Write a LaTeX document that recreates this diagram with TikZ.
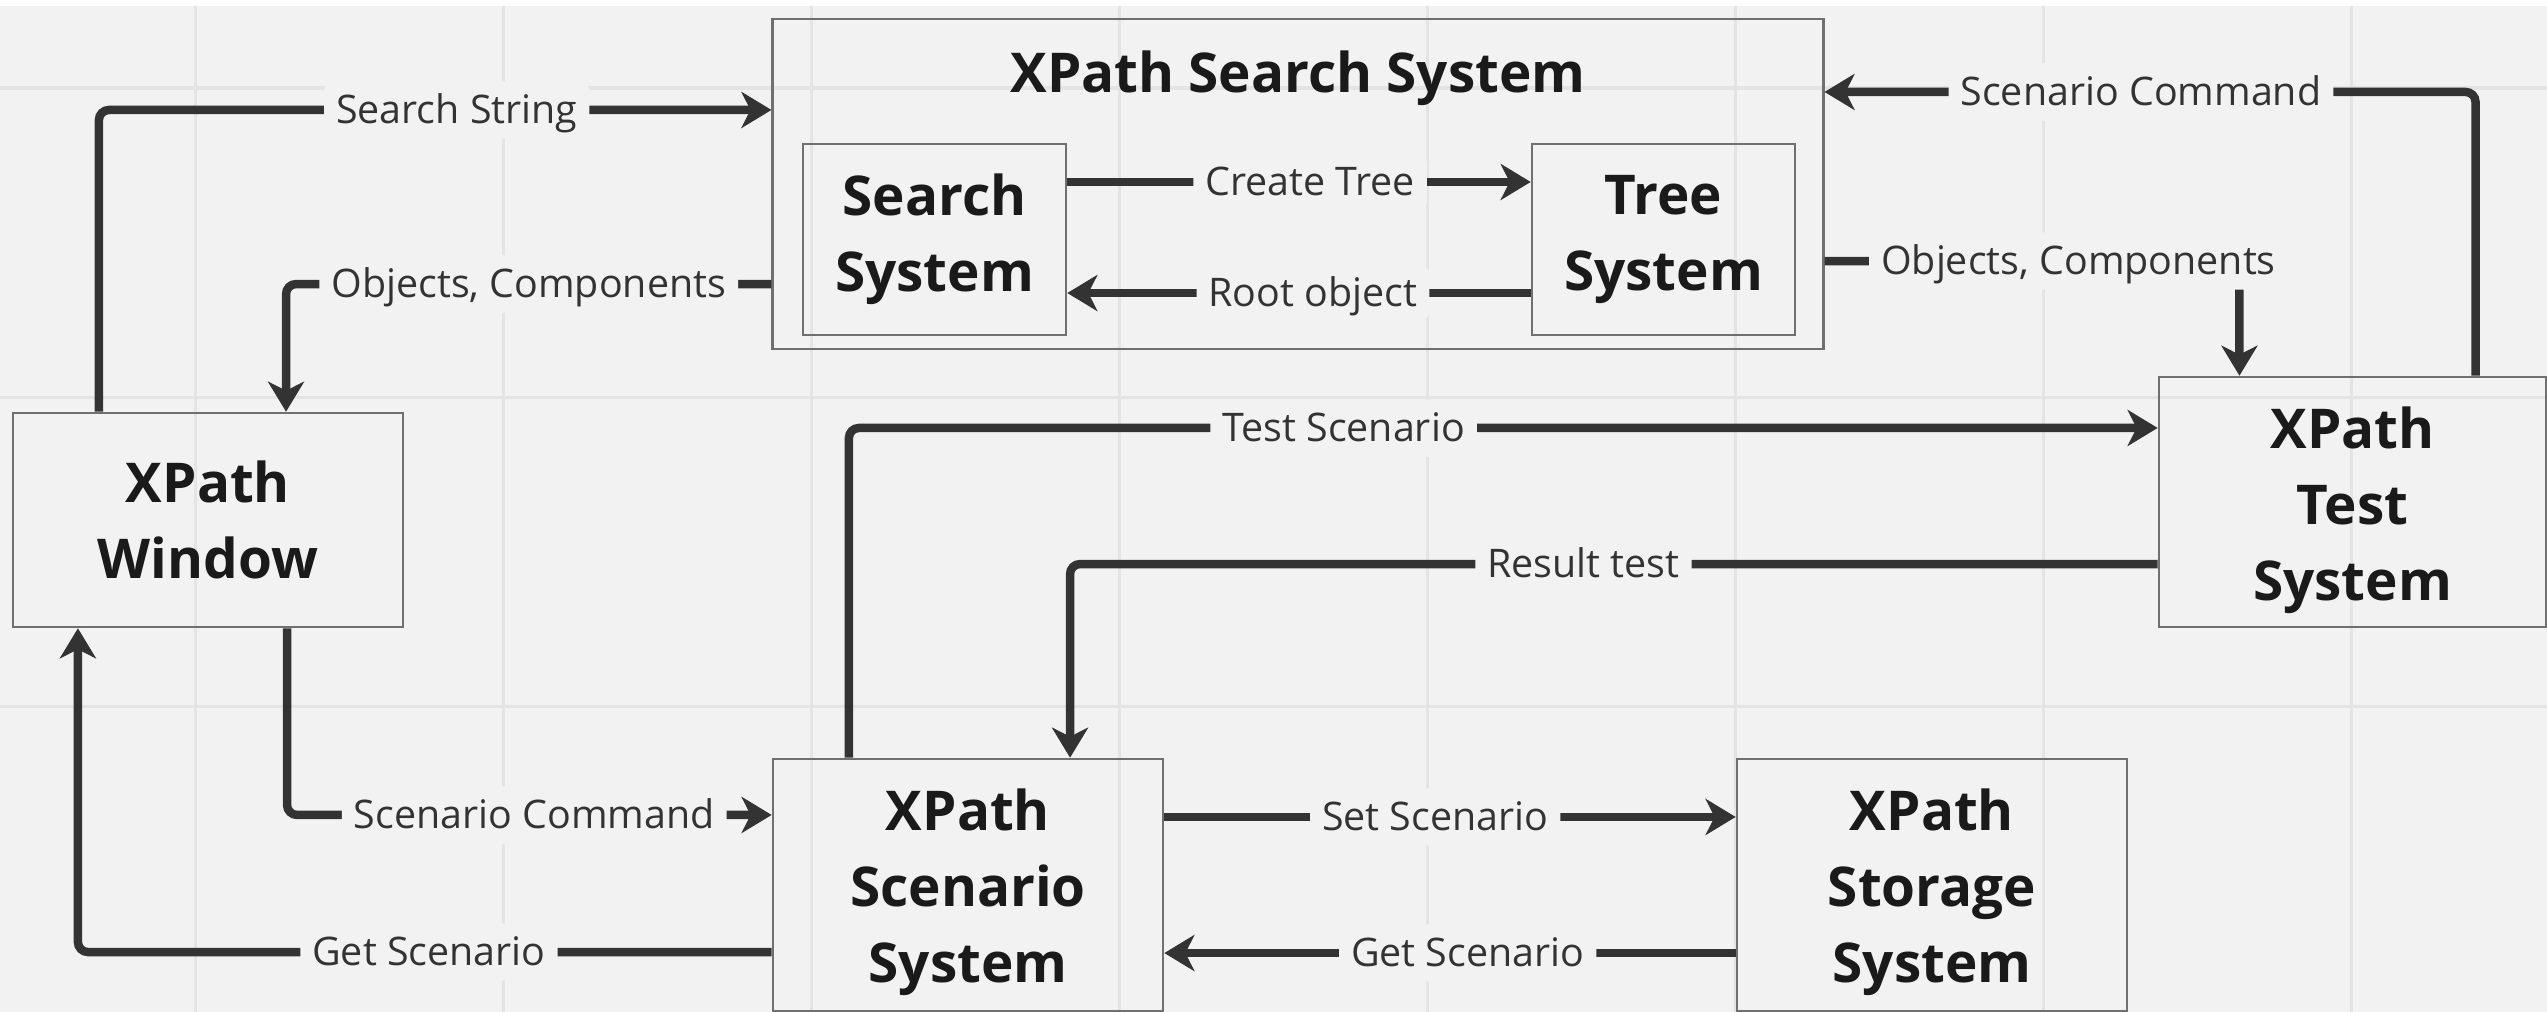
\documentclass[tikz,border=0pt]{standalone}
\usepackage{fontspec}
\setmainfont{Open Sans}
\usetikzlibrary{positioning, arrows.meta}

\definecolor{bgcol}{HTML}{F2F2F2}
\definecolor{gridcol}{HTML}{E4E4E4}
\definecolor{boxcol}{HTML}{707070}
\definecolor{linecol}{HTML}{333333}
\definecolor{txtcol}{HTML}{1A1A1A}

\tikzset{
    sysfont/.style={text=txtcol, align=center, font=\bfseries\fontsize{15.6}{21.6}\selectfont},
    sysbox/.style={sysfont, draw=boxcol, line width=0.7pt, inner sep=0pt, minimum width=3.9cm, minimum height=2.52cm},
    flow/.style={draw=linecol, line width=2.4pt, rounded corners=0.1cm, -{Stealth[length=3mm, width=3.6mm, inset=0.9mm]}},
    lbl/.style={fill=bgcol, text=linecol, inner xsep=0.12cm, inner ysep=0.03cm, text height=11.2pt, text depth=3.4pt, font=\fontsize{11.2}{13}\selectfont},
}

\begin{document}
\begin{tikzpicture}[x=0.01cm, y=-0.01cm]
            % canvas and grid
            \useasboundingbox (0,0) rectangle (2547,1012);
            \fill[white] (0,0) rectangle (2547,1012);
            \fill[bgcol] (0,6) rectangle (2547,1012);
            \foreach \gx in {195,503,...,2547} \draw[gridcol, line width=0.03cm] (\gx,6) -- (\gx,1012);
            \foreach \gy in {88,397,...,1012} \draw[gridcol, line width=0.03cm] (0,\gy) -- (2547,\gy);

            % systems
            \node[sysbox, minimum width=10.5cm, minimum height=3.3cm] (xss) at (1298,184) {};
            \node[sysfont, anchor=base] (xsstitle) at (1298,93) {XPath Search System};
            \node[sysbox, minimum width=2.63cm, minimum height=1.91cm] (ss) at (934.5,239.5) {Search\\System};
            \node[sysbox, minimum width=2.63cm, minimum height=1.91cm] (ts) at (1663.5,239.5) {Tree\\System};
            \node[sysbox, minimum height=2.14cm] (win) at (208,520) {XPath\\Window};
            \node[sysbox, minimum width=3.87cm, minimum height=2.5cm, label={[sysfont, yshift=-0.08cm]center:XPath\\Test\\System}] (tst) at (2352.5,502) {};
            \node[sysbox, label={[sysfont, yshift=-0.07cm]center:XPath\\Scenario\\System}] (scn) at (968,885) {};
            \node[sysbox, label={[sysfont, yshift=-0.07cm]center:XPath\\Storage\\System}] (stor) at (1932,885) {};

            % connectors
            \draw[flow] ([xshift=-1.09cm]win.north) |- node[lbl, pos=0.766] {Search String} ([yshift=0.74cm]xss.west);
            \draw[flow] ([yshift=-1.0cm]xss.west) -| node[lbl, pos=0.25] {Objects, Components} ([xshift=0.78cm]win.north);
            \draw[flow] ([xshift=1.23cm]tst.north) |- node[lbl, pos=0.757] {Scenario Command} ([yshift=0.92cm]xss.east);
            \draw[flow] ([yshift=-0.77cm]xss.east) -| node[lbl, pos=0.306] {Objects, Components} ([xshift=-1.13cm]tst.north);
            \draw[flow] ([yshift=0.575cm]ss.east) -- node[lbl, pos=0.524] {Create Tree} ([yshift=0.575cm]ts.west);
            \draw[flow] ([yshift=-0.535cm]ts.west) -- node[lbl, pos=0.47] {Root object} ([yshift=-0.535cm]ss.east);
            \draw[flow] ([xshift=-1.19cm]scn.north) |- node[lbl, pos=0.689] {Test Scenario} ([yshift=0.74cm]tst.west);
            \draw[flow] ([yshift=-0.62cm]tst.west) -| node[lbl, pos=0.264] {Result test} ([xshift=1.02cm]scn.north);
            \draw[flow] ([xshift=0.79cm]win.south) |- node[lbl, pos=0.755] {Scenario Command} ([yshift=0.70cm]scn.west);
            \draw[flow] ([yshift=-0.67cm]scn.west) -| node[lbl, pos=0.247] {Get Scenario} ([xshift=-1.30cm]win.south);
            \draw[flow] ([yshift=0.68cm]scn.east) -- node[lbl, pos=0.474] {Set Scenario} ([yshift=0.68cm]stor.west);
            \draw[flow] ([yshift=-0.68cm]stor.west) -- node[lbl, pos=0.469] {Get Scenario} ([yshift=-0.68cm]scn.east);
\end{tikzpicture}
\end{document}
